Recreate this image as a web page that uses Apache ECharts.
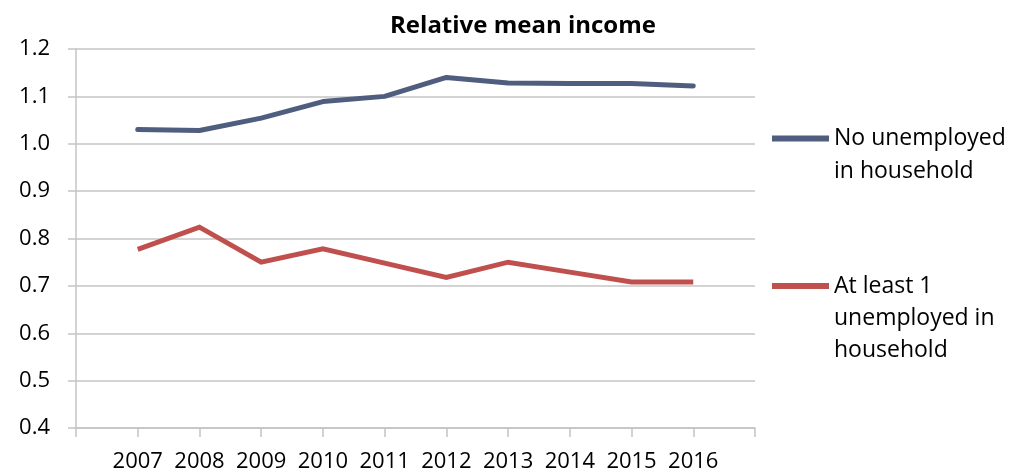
<!DOCTYPE html>
<html>
<head>
<meta charset="utf-8">
<title>Relative mean income</title>
<script src="https://cdn.jsdelivr.net/npm/echarts@6/dist/echarts.min.js"></script>
<style>
  html, body { margin: 0; padding: 0; background: #ffffff; }
  #chart { width: 1009px; height: 475px; }
</style>
</head>
<body>
<div id="chart"></div>
<script>
// Years on the category axis; blank slots pad each end of the axis
const years = ['2007', '2008', '2009', '2010', '2011', '2012', '2013', '2014', '2015', '2016'];
const categories = [''].concat(years, ['']);

// Relative mean income by household employment status
const noUnemployed = [1.030, 1.028, 1.054, 1.089, 1.100, 1.140, 1.128, 1.127, 1.127, 1.122];
const atLeastOne   = [0.777, 0.824, 0.750, 0.778, 0.748, 0.718, 0.750, 0.729, 0.708, 0.708];

const seriesNames = ['No unemployed in household', 'At least 1 unemployed in household'];
// Legend text is wrapped; leading blank lines keep the swatch level with the first line
const legendLabels = {
  'No unemployed in household': '\nNo unemployed\nin household',
  'At least 1 unemployed in household': '\n\nAt least 1\nunemployed in\nhousehold'
};

const font = 'Open Sans';
const textColor = '#000000';
const gridColor = '#c4c4c4';

function pad(values) {
  return [null].concat(values, [null]);
}

const chart = echarts.init(document.getElementById('chart'), null, { renderer: 'canvas' });

const legendBase = {
  orient: 'vertical',
  left: 767,
  itemWidth: 57,
  itemHeight: 6,
  itemGap: 0,
  icon: 'rect',
  formatter: name => legendLabels[name],
  selectedMode: false
};

chart.setOption({
  animation: false,
  backgroundColor: '#ffffff',
  textStyle: { fontFamily: font },
  title: {
    text: 'Relative mean income',
    left: 518,
    top: 9,
    textAlign: 'center',
    textStyle: { fontFamily: font, fontSize: 24, fontWeight: 'bold', color: textColor }
  },
  legend: [
    Object.assign({}, legendBase, {
      data: [seriesNames[0]],
      top: 84,
      textStyle: { fontFamily: font, fontSize: 23, color: textColor, lineHeight: 33 }
    }),
    Object.assign({}, legendBase, {
      data: [seriesNames[1]],
      top: 201,
      textStyle: { fontFamily: font, fontSize: 23, color: textColor, lineHeight: 32 }
    })
  ],
  grid: { left: 76, right: 254, top: 49, bottom: 47, containLabel: false },
  xAxis: {
    type: 'category',
    data: categories,
    boundaryGap: false,
    axisLine: { show: true, lineStyle: { color: gridColor, width: 1.5 } },
    axisTick: { show: true, length: 9, alignWithLabel: true, lineStyle: { color: gridColor, width: 1.5 } },
    axisLabel: { show: true, interval: 0, margin: 23, fontFamily: font, fontSize: 22, color: textColor },
    splitLine: { show: false }
  },
  yAxis: {
    type: 'value',
    min: 0.4,
    max: 1.2,
    interval: 0.1,
    axisLine: { show: true, lineStyle: { color: gridColor, width: 1.5 } },
    axisTick: { show: true, length: 8, lineStyle: { color: gridColor, width: 1.5 } },
    axisLabel: {
      margin: 26,
      fontFamily: font,
      fontSize: 22,
      color: textColor,
      formatter: v => v.toFixed(1)
    },
    splitLine: { show: true, lineStyle: { color: gridColor, width: 1.5 } }
  },
  series: [
    {
      name: seriesNames[0],
      type: 'line',
      data: pad(noUnemployed),
      symbol: 'none',
      color: '#4f5d7e',
      lineStyle: { width: 5, color: '#4f5d7e', cap: 'round', join: 'round' }
    },
    {
      name: seriesNames[1],
      type: 'line',
      data: pad(atLeastOne),
      symbol: 'none',
      color: '#c0504d',
      lineStyle: { width: 5, color: '#c0504d', join: 'miter' }
    }
  ]
});
</script>
</body>
</html>
